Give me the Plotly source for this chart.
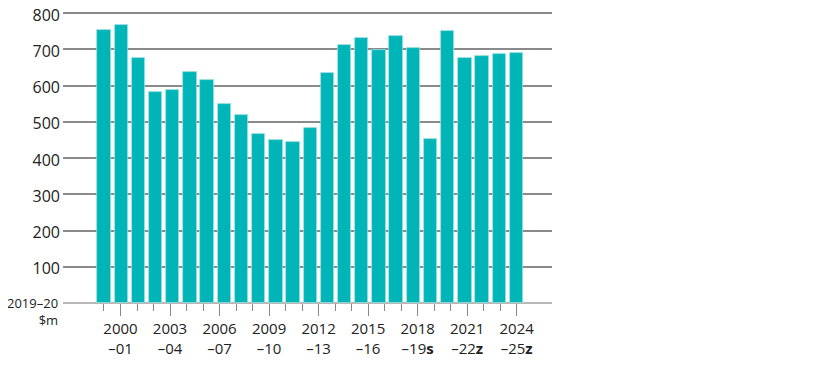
import plotly.graph_objects as go

years = ["2000–01", "2001–02", "2002–03", "2003–04", "2004–05", "2005–06", "2006–07",
         "2007–08", "2008–09", "2009–10", "2010–11", "2011–12", "2012–13", "2013–14",
         "2014–15", "2015–16", "2016–17", "2017–18", "2018–19", "2019–20", "2020–21",
         "2021–22", "2022–23", "2023–24", "2024–25"]
values = [753, 767, 677, 582, 588, 637, 615, 549, 519, 465, 451, 443, 484, 636,
          713, 731, 699, 738, 703, 452, 750, 675, 681, 687, 691]

tick_positions = [1, 4, 7, 10, 13, 16, 19, 22, 25]
tick_labels = ["2000<br>–01", "2003<br>–04", "2006<br>–07", "2009<br>–10", "2012<br>–13",
               "2015<br>–16", "2018<br>–19<b>s</b>", "2021<br>–22<b>z</b>", "2024<br>–25<b>z</b>"]
minor_positions = list(range(0, 26))

y_ticks = [100, 200, 300, 400, 500, 600, 700, 800]

FONT = "Open Sans"
TEAL = "#00b5b8"

fig = go.Figure()
fig.add_trace(go.Bar(
    x=list(range(len(values))), y=values, width=0.775,
    marker=dict(color=TEAL, line=dict(color="#9fe0e1", width=0.8)),
    hovertext=years, showlegend=False,
))
# invisible trace to carry the tick axis
fig.add_trace(go.Scatter(x=[0, 25], y=[None, None], xaxis="x2", mode="lines",
                         showlegend=False, hoverinfo="skip"))

fig.update_layout(
    width=807, height=357,
    margin=dict(l=55, r=263, t=4, b=62, autoexpand=False),
    plot_bgcolor="white", paper_bgcolor="white",
    font=dict(family=FONT, color="#222222", size=15),
    bargap=0,
    xaxis=dict(range=[-2.386, 26.07], showgrid=False, zeroline=False, automargin=False,
               showticklabels=False, ticks="", showline=False),
    xaxis2=dict(range=[-2.483, 27.14], overlaying="x", anchor="y", side="bottom",
                showgrid=False, zeroline=False, showline=False, automargin=False,
                tickmode="array", tickvals=tick_positions, ticktext=tick_labels,
                ticks="outside", ticklen=12, tickcolor="#888888", tickwidth=1,
                tickfont=dict(family=FONT, size=15, color="#222222"),
                minor=dict(tickmode="array", tickvals=minor_positions, ticks="outside",
                           ticklen=7, tickcolor="#888888", tickwidth=1)),
    yaxis=dict(range=[0, 803], tickmode="array", tickvals=y_ticks,
               ticktext=[str(v) for v in y_ticks], automargin=False,
               ticklabeloverflow="allow", ticklabelshift=2, ticklabelstandoff=2,
               showgrid=True, gridcolor="#8a8a8a", gridwidth=1.5,
               zeroline=True, zerolinecolor="#b8b8b8", zerolinewidth=1.5,
               ticks="", showline=False,
               tickfont=dict(family=FONT, size=16, color="#222222")),
)

fig.add_annotation(x=0, y=0, xref="paper", yref="y", xanchor="right", yanchor="middle",
                   xshift=-3, yshift=-8, align="right", showarrow=False,
                   text="2019–20<br>$m", font=dict(family=FONT, size=13, color="#222222"))

fig.write_html("out.html")
